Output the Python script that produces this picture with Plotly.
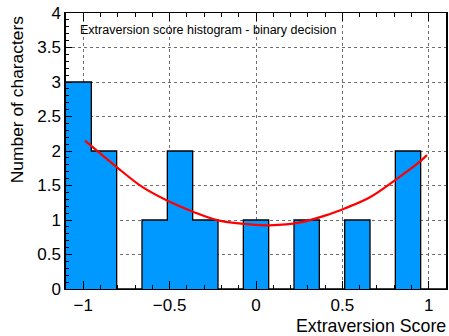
import plotly.graph_objects as go

# Histogram binning: 15 equal bins over [-1.1, 1.1]
x_min, x_max, n_bins = -1.1, 1.1, 15
counts = [3, 2, 0, 1, 2, 1, 0, 1, 0, 1, 0, 1, 0, 2, 0]

# Second-order polynomial fit, sampled along the curve
fit_x = [-0.99, -0.805, -0.661, -0.509, -0.365, -0.212, 0.0, 0.077, 0.249, 0.42, 0.516, 0.66, 0.812, 0.936, 0.99]
fit_y = [2.15, 1.764, 1.483, 1.275, 1.12, 0.99, 0.928, 0.923, 0.961, 1.08, 1.17, 1.33, 1.59, 1.82, 1.94]

title_text = "Extraversion score histogram - binary decision"
x_title = "Extraversion Score"
y_title = "Number of characters"

width = (x_max - x_min) / n_bins
edges = [x_min + i * width for i in range(n_bins + 1)]
step_y = counts + [counts[-1]]

W, H = 449, 336
ml, mr, mt, mb = 66, 1, 13, 47
pw, ph = W - ml - mr, H - mt - mb

fig = go.Figure()
fig.add_trace(go.Scatter(
    x=edges, y=step_y, mode="lines", line_shape="hv",
    fill="tozeroy", fillcolor="rgb(0,153,255)",
    line=dict(color="black", width=1.3), hoverinfo="skip",
))
fig.add_trace(go.Scatter(
    x=fit_x, y=fit_y, mode="lines", line_shape="spline",
    line=dict(color="red", width=2.2), hoverinfo="skip",
))

font = "Liberation Sans, Arial, sans-serif"
fig.update_layout(
    width=W, height=H,
    margin=dict(l=ml, r=mr, t=mt, b=mb, pad=0),
    paper_bgcolor="white", plot_bgcolor="white",
    showlegend=False,
    font=dict(family=font, size=17, color="black"),
    xaxis=dict(
        range=[x_min, x_max], tickmode="array",
        tickvals=[-1, -0.5, 0, 0.5, 1], ticktext=["\u22121", "\u22120.5", "0", "0.5", "1"],
        ticks="inside", ticklen=8, tickwidth=1.2, tickcolor="black",
        minor=dict(dtick=0.1, tick0=0, ticks="inside", ticklen=4, tickcolor="black", showgrid=False),
        showline=True, linecolor="black", linewidth=1.2, mirror="ticks",
        showgrid=True, gridcolor="rgb(110,110,110)", griddash="dot", gridwidth=1,
        zeroline=False, tickfont=dict(size=17),
    ),
    yaxis=dict(
        range=[0, 4], dtick=0.5, tick0=0,
        ticks="inside", ticklen=6, tickwidth=1, tickcolor="black",
        minor=dict(dtick=0.1, tick0=0, ticks="inside", ticklen=3, tickcolor="black", showgrid=False),
        showline=True, linecolor="black", linewidth=1.5, mirror=True,
        showgrid=True, gridcolor="rgb(110,110,110)", griddash="dot", gridwidth=1,
        zeroline=False, tickfont=dict(size=17),
    ),
    annotations=[
        dict(text=title_text, xref="paper", yref="paper",
             x=(78 - ml) / pw, y=(H - mb - 30) / ph, xanchor="left", yanchor="middle",
             showarrow=False, font=dict(size=12.5)),
        dict(text=x_title, xref="paper", yref="paper",
             x=(450 - ml) / pw, y=-(326 - (H - mb)) / ph, xanchor="right", yanchor="middle",
             showarrow=False, font=dict(size=17.8)),
        dict(text=y_title, xref="paper", yref="paper", textangle=-90,
             x=(17 - ml) / pw, y=(H - mb - 99) / ph, xanchor="center", yanchor="middle",
             showarrow=False, font=dict(size=17.4)),
    ],
)

fig.write_html("out.html")
